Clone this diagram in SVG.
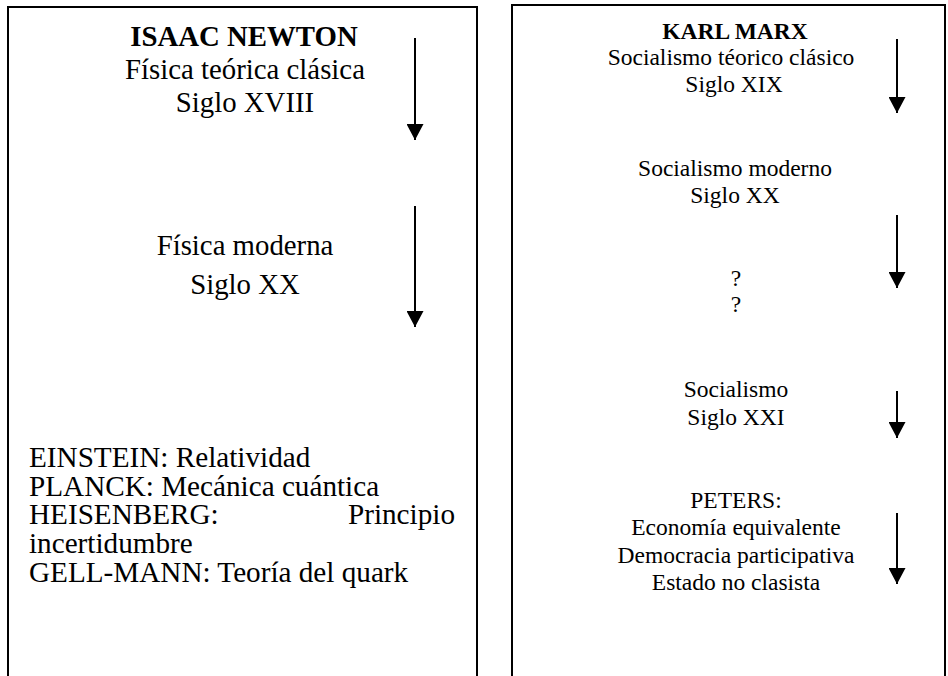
<svg xmlns="http://www.w3.org/2000/svg" width="948" height="676" viewBox="0 0 948 676">
<style>
  .frame { fill: none; stroke: #000; stroke-width: 2; }
  .l { font-size: 29.2px; }
  .lc { font-size: 28.8px; text-anchor: middle; }
  .rc { font-size: 23.5px; text-anchor: middle; }
  .b { font-weight: bold; }
  .arrow { stroke: #000; stroke-width: 2; fill: none; marker-end: url(#head); }
</style>
<defs>
  <marker id="head" markerUnits="userSpaceOnUse" markerWidth="16" markerHeight="17" viewBox="0 0 15 16" refX="15" refY="8" orient="auto">
    <path d="M0,0 L15,8 L0,16 Z" fill="#000"/>
  </marker>
</defs>
<rect width="948" height="676" fill="#fff"/>

<g font-family="'Liberation Serif', 'Times New Roman', serif" fill="#000">
<g id="newton-panel">
  <path class="frame" d="M8,676 V7 H477 V676"/>
  <g id="newton">
    <text class="lc b" x="244" y="46">ISAAC NEWTON</text>
    <text class="lc" x="245" y="79">Física teórica clásica</text>
    <text class="lc" x="245" y="112">Siglo XVIII</text>
  </g>
  <g id="fisica-moderna">
    <text class="lc" x="245" y="255">Física moderna</text>
    <text class="lc" x="245" y="294">Siglo XX</text>
  </g>
  <g id="fisicos">
    <text class="l" x="29" y="467">EINSTEIN: Relatividad</text>
    <text class="l" x="29" y="496">PLANCK: Mecánica cuántica</text>
    <text class="l" x="29" y="524">HEISENBERG:</text>
    <text class="l" x="455" y="524" text-anchor="end">Principio</text>
    <text class="l" x="29" y="553">incertidumbre</text>
    <text class="l" x="29" y="582">GELL-MANN: Teoría del quark</text>
  </g>
</g>

<g id="marx-panel">
  <path class="frame" d="M512,676 V5 H945 V676"/>
  <g id="marx">
    <text class="rc b" x="735" y="39">KARL MARX</text>
    <text class="rc" x="731" y="65" font-size="23.2">Socialismo téorico clásico</text>
    <text class="rc" x="734" y="92">Siglo XIX</text>
  </g>
  <g id="socialismo-moderno">
    <text class="rc" x="735" y="176">Socialismo moderno</text>
    <text class="rc" x="735" y="203">Siglo XX</text>
  </g>
  <g id="interrogantes">
    <text class="rc" x="736" y="286">?</text>
    <text class="rc" x="736" y="312">?</text>
  </g>
  <g id="socialismo-xxi">
    <text class="rc" x="736" y="397">Socialismo</text>
    <text class="rc" x="736" y="425">Siglo XXI</text>
  </g>
  <g id="peters">
    <text class="rc" x="736" y="508">PETERS:</text>
    <text class="rc" x="736" y="535">Economía equivalente</text>
    <text class="rc" x="736" y="563">Democracia participativa</text>
    <text class="rc" x="736" y="590">Estado no clasista</text>
  </g>
</g>
</g>

<g id="connectors">
  <line class="arrow" x1="415" y1="38" x2="415" y2="140"/>
  <line class="arrow" x1="415" y1="206" x2="415" y2="327"/>
  <line class="arrow" x1="897" y1="39" x2="897" y2="113"/>
  <line class="arrow" x1="897" y1="215" x2="897" y2="288"/>
  <line class="arrow" x1="897" y1="391" x2="897" y2="438"/>
  <line class="arrow" x1="897" y1="513" x2="897" y2="584"/>
</g>
</svg>
